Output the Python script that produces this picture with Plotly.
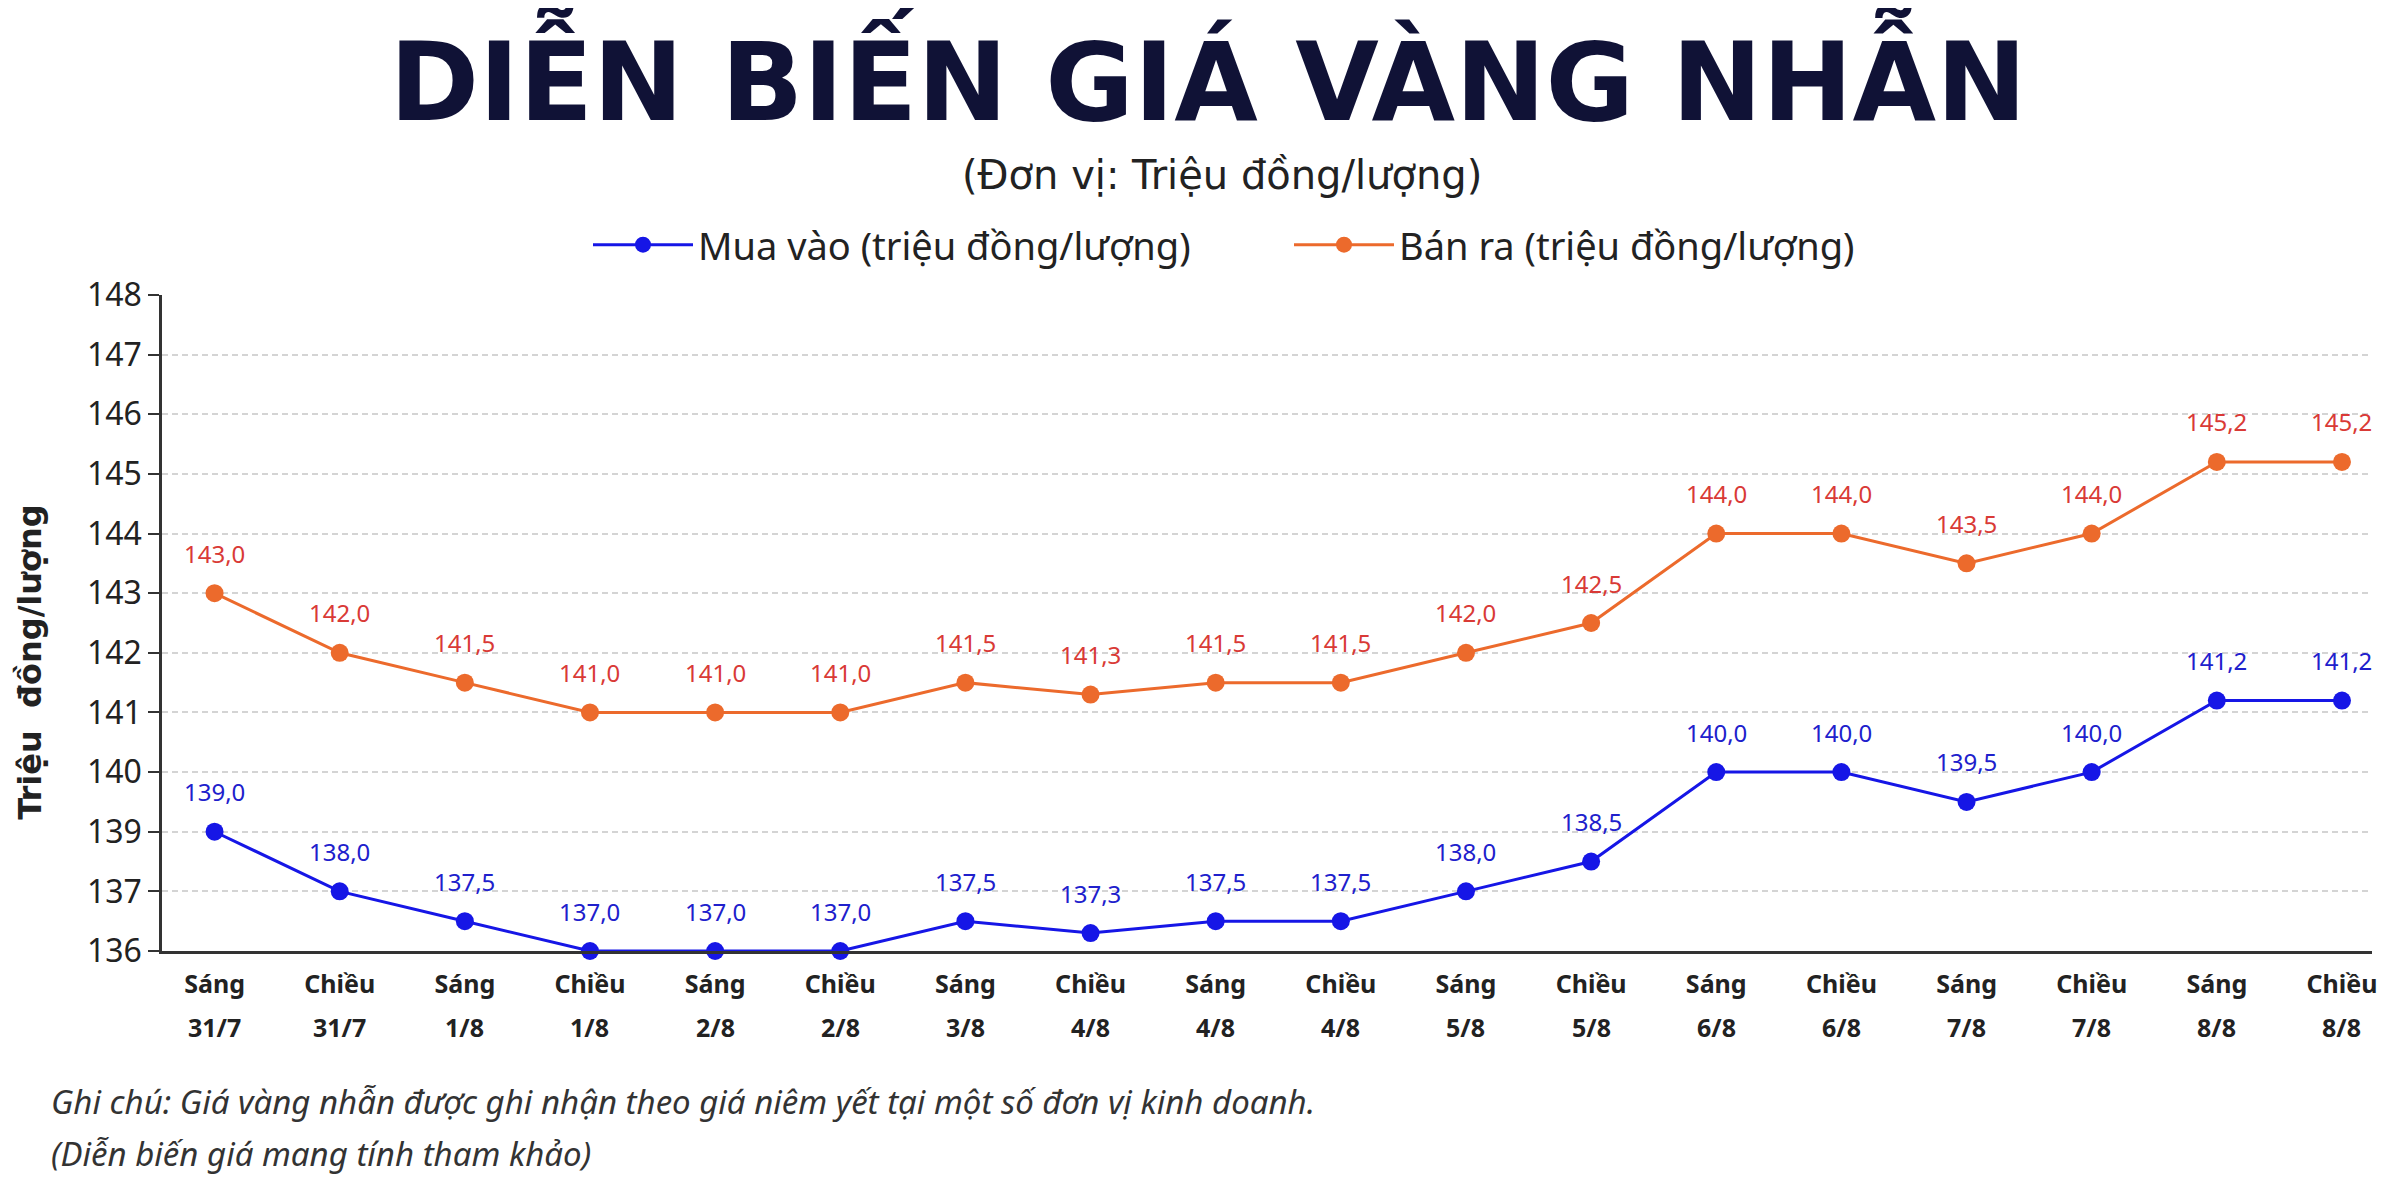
import plotly.graph_objects as go

# ---- data ----
sessions = ["Sáng", "Chiều", "Sáng", "Chiều", "Sáng", "Chiều", "Sáng", "Chiều", "Sáng",
            "Chiều", "Sáng", "Chiều", "Sáng", "Chiều", "Sáng", "Chiều", "Sáng", "Chiều"]
dates = ["31/7", "31/7", "1/8", "1/8", "2/8", "2/8", "3/8", "4/8", "4/8",
         "4/8", "5/8", "5/8", "6/8", "6/8", "7/8", "7/8", "8/8", "8/8"]
mua_vao = [139.0, 138.0, 137.5, 137.0, 137.0, 137.0, 137.5, 137.3, 137.5,
           137.5, 138.0, 138.5, 140.0, 140.0, 139.5, 140.0, 141.2, 141.2]
ban_ra = [143.0, 142.0, 141.5, 141.0, 141.0, 141.0, 141.5, 141.3, 141.5,
          141.5, 142.0, 142.5, 144.0, 144.0, 143.5, 144.0, 145.2, 145.2]
# y tick labels exactly as printed on the original (it skips 138)
y_tick_labels = ["136", "137", "139", "140", "141", "142", "143", "144", "145", "146", "147", "148"]

BLUE = "#1616e6"
ORANGE = "#ec6a2c"
BLUE_TXT = "#2020cc"
RED_TXT = "#d93a36"

# page has an 8px body margin, so the figure is a bit smaller than the window
OFF = 8
W, H = 2386, 1186
ML, MR, MT, MB = 154, 22, 287, 243

# page pixel -> paper helpers for the free text
def px_x(px):
    return (px - OFF - ML) / (W - ML - MR)

def px_y(py):
    return (H - MB - (py - OFF)) / (H - MT - MB)

idx = list(range(len(sessions)))

def fmt(v):
    return f"{v:.1f}".replace(".", ",")

fig = go.Figure()
fig.add_trace(go.Scatter(
    x=idx, y=mua_vao, mode="lines+markers", name="Mua vào (triệu đồng/lượng)",
    line=dict(color=BLUE, width=3), marker=dict(color=BLUE, size=18),
    cliponaxis=False))
fig.add_trace(go.Scatter(
    x=idx, y=ban_ra, mode="lines+markers", name="Bán ra (triệu đồng/lượng)",
    line=dict(color=ORANGE, width=3), marker=dict(color=ORANGE, size=18),
    cliponaxis=False))

# value labels above the points
for i in idx:
    fig.add_annotation(x=i, y=mua_vao[i], text=fmt(mua_vao[i]), showarrow=False,
                       yshift=40, yanchor="middle",
                       font=dict(family="Noto Sans", size=24, color=BLUE_TXT))
    fig.add_annotation(x=i, y=ban_ra[i], text=fmt(ban_ra[i]), showarrow=False,
                       yshift=40, yanchor="middle",
                       font=dict(family="Noto Sans", size=24, color=RED_TXT))
    # second line of the x labels (date)
    fig.add_annotation(x=i, y=0, yref="paper", text="<b>" + dates[i] + "</b>", showarrow=False,
                       yshift=-76, yanchor="middle",
                       font=dict(family="Noto Sans", size=25, color="#222222"))

# subtitle and notes
fig.add_annotation(x=px_x(1222), y=px_y(175), xref="paper", yref="paper",
                   xanchor="center", yanchor="middle",
                   text="(Đơn vị: Triệu đồng/lượng)", showarrow=False,
                   font=dict(family="DejaVu Sans", size=40, color="#222222"))
fig.add_annotation(x=px_x(49), y=px_y(1101), xref="paper", yref="paper",
                   xanchor="left", yanchor="middle",
                   text="<i>Ghi chú: Giá vàng nhẫn được ghi nhận theo giá niêm yết tại một số đơn vị kinh doanh.</i>",
                   showarrow=False, font=dict(family="Noto Sans", size=33, color="#333333"))
fig.add_annotation(x=px_x(49), y=px_y(1153), xref="paper", yref="paper",
                   xanchor="left", yanchor="middle",
                   text="<i>(Diễn biến giá mang tính tham khảo)</i>",
                   showarrow=False, font=dict(family="Noto Sans", size=33, color="#333333"))

fig.update_layout(
    width=W, height=H,
    paper_bgcolor="white", plot_bgcolor="white",
    margin=dict(l=ML, r=MR, t=MT, b=MB, autoexpand=False),
    title=dict(text="<b>DIỄN BIẾN GIÁ VÀNG NHẪN</b>", x=(1208 - OFF) / W, xanchor="center",
               y=1 - (82 - OFF) / H, yanchor="middle", yref="container",
               font=dict(family="DejaVu Sans", size=108, color="#101236")),
    legend=dict(orientation="h", x=(588 - OFF) / W, xanchor="left",
                y=1 - (245 - OFF) / H, yanchor="middle",
                xref="container", yref="container",
                font=dict(family="Noto Sans", size=38, color="#222222"),
                itemwidth=100, entrywidth=586),
    showlegend=True,
    xaxis=dict(range=[-0.42, 17.24], tickmode="array", tickvals=idx,
               ticktext=["<b>" + s + "</b>" for s in sessions],
               tickfont=dict(family="Noto Sans", size=25, color="#222222"),
               ticklabelstandoff=9,
               showgrid=False, zeroline=False, showline=True, linecolor="#333333", linewidth=3,
               ticks="", automargin=False),
    yaxis=dict(range=[137, 148], tickmode="array", tickvals=list(range(137, 149)),
               ticktext=y_tick_labels,
               tickfont=dict(family="Noto Sans", size=32, color="#222222"),
               showgrid=True, gridcolor="#d4d4d4", gridwidth=1.5, griddash="6px,4px",
               zeroline=False, showline=True, linecolor="#333333", linewidth=2.5,
               ticks="outside", ticklen=11, tickwidth=2, tickcolor="#333333", automargin=False,
               title=dict(text="<b>Triệu\u00a0\u00a0đồng/lượng" + "\u00a0" * 7 + "</b>", standoff=36,
                          font=dict(family="DejaVu Sans", size=32, color="#222222"))),
)

fig.write_html("out.html")
